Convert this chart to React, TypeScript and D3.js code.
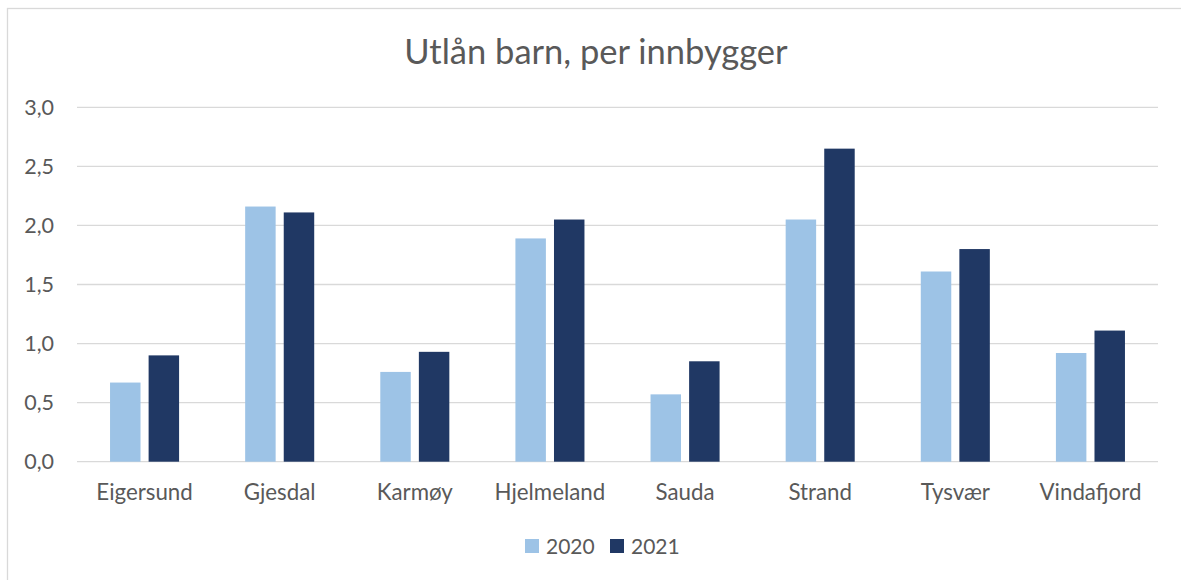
import React from "react";
import * as d3 from "d3";

const categories = ["Eigersund", "Gjesdal", "Karmøy", "Hjelmeland", "Sauda", "Strand", "Tysvær", "Vindafjord"];
const seriesNames = ["2020", "2021"];
const values2020 = [0.67, 2.16, 0.76, 1.89, 0.57, 2.05, 1.61, 0.92];
const values2021 = [0.9, 2.11, 0.93, 2.05, 0.85, 2.65, 1.8, 1.11];
const yTicks = [0, 0.5, 1, 1.5, 2, 2.5, 3];
const title = "Utlån barn, per innbygger";

const W = 1181;
const H = 580;
const FONT = "Lato, 'Open Sans', sans-serif";
const TEXT = "#595959";
const colors = ["#9DC3E6", "#203864"];

export default function App() {
  const left = 77;
  const right = 1158;
  const top = 107.3;
  const bottom = 461.7;

  const y = d3.scaleLinear().domain([0, 3]).range([bottom, top]);
  const x0 = d3
    .scaleBand<string>()
    .domain(categories)
    .range([left, right])
    .paddingInner(0.489)
    .paddingOuter(0.2445);
  const x1 = d3
    .scaleBand<string>()
    .domain(seriesNames)
    .range([0, x0.bandwidth()])
    .paddingInner(0.21);
  const color = d3.scaleOrdinal<string, string>().domain(seriesNames).range(colors);
  const fmt = (v: number) => d3.format(".1f")(v).replace(".", ",");

  const series = [values2020, values2021];

  return (
    <svg
      width={W}
      height={H}
      style={{ position: "absolute", left: 0, top: 0, background: "#fff" }}
      fontFamily={FONT}
    >
      <rect x={0} y={0} width={W} height={H} fill="#fff" />
      <rect x={7.5} y={8.5} width={W + 20} height={H + 20} fill="none" stroke="#d9d9d9" strokeWidth={1.3} />
      <text x={596} y={64} textAnchor="middle" fontSize={34.5} fill={TEXT}>
        {title}
      </text>
      {yTicks.map((t) => (
        <g key={t}>
          <line x1={left} x2={right} y1={y(t)} y2={y(t)} stroke="#d9d9d9" strokeWidth={1.3} />
          <text x={54} y={y(t)} dy="0.36em" textAnchor="end" fontSize={21.5} fill={TEXT}>
            {fmt(t)}
          </text>
        </g>
      ))}
      {categories.map((c, i) => (
        <g key={c} transform={`translate(${x0(c)},0)`}>
          {seriesNames.map((s, j) => (
            <rect
              key={s}
              x={x1(s)}
              y={y(series[j][i])}
              width={x1.bandwidth()}
              height={y(0) - y(series[j][i])}
              fill={color(s)}
            />
          ))}
        </g>
      ))}
      {categories.map((c) => (
        <text
          key={c}
          x={(x0(c) as number) + x0.bandwidth() / 2}
          y={500}
          textAnchor="middle"
          fontSize={22.3}
          fill={TEXT}
        >
          {c}
        </text>
      ))}
      {seriesNames.map((s, j) => {
        const lx = [525, 610][j];
        return (
          <g key={s}>
            <rect x={lx} y={539} width={14} height={14} fill={color(s)} />
            <text x={lx + 21} y={553.5} fontSize={21} fill={TEXT}>
              {s}
            </text>
          </g>
        );
      })}
    </svg>
  );
}
